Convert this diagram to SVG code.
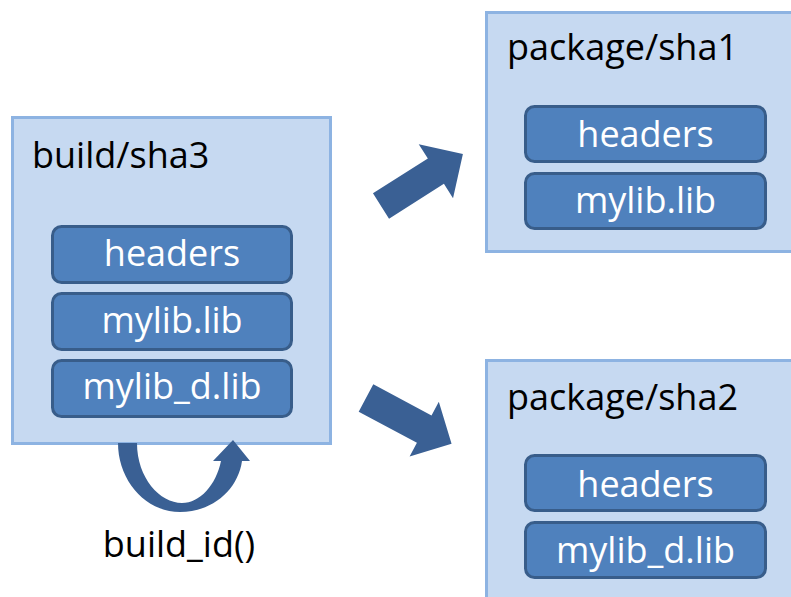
<svg xmlns="http://www.w3.org/2000/svg" width="791" height="597" viewBox="0 0 791 597">
<style>
.outer{fill:#c6d9f1;stroke:#8db3e2;stroke-width:3}
.inner{fill:#4f81bd;stroke:#385d8a;stroke-width:3}
.title{font-family:"Open Sans",sans-serif;font-size:36px;fill:#000}
.lbl{font-family:"Open Sans",sans-serif;font-size:36px;fill:#fff;text-anchor:middle}
.arr{fill:#3a6094}
</style>
<rect width="791" height="597" fill="#fff"/>
<g id="build">
<rect class="outer" x="12.5" y="117.5" width="318" height="326"/>
<text class="title" x="32" y="168">build/sha3</text>
<rect class="inner" x="52.5" y="226.5" width="239" height="56" rx="9"/>
<text class="lbl" x="172" y="266">headers</text>
<rect class="inner" x="52.5" y="293.5" width="239" height="56" rx="9"/>
<text class="lbl" x="172" y="333">mylib.lib</text>
<rect class="inner" x="52.5" y="360.5" width="239" height="56" rx="9"/>
<text class="lbl" x="172" y="399">mylib_d.lib</text>
</g>
<g id="package_sha1">
<rect class="outer" x="486.5" y="12.5" width="320" height="239"/>
<text class="title" x="507" y="60">package/sha1</text>
<rect class="inner" x="525.5" y="106.5" width="240" height="55" rx="9"/>
<text class="lbl" x="645.5" y="147">headers</text>
<rect class="inner" x="525.5" y="173.5" width="240" height="55" rx="9"/>
<text class="lbl" x="645.5" y="213">mylib.lib</text>
</g>
<g id="package_sha2">
<rect class="outer" x="486.5" y="360.5" width="320" height="260"/>
<text class="title" x="507" y="410">package/sha2</text>
<rect class="inner" x="525.5" y="455.5" width="240" height="55" rx="9"/>
<text class="lbl" x="645.5" y="497">headers</text>
<rect class="inner" x="525.5" y="522.5" width="240" height="55" rx="9"/>
<text class="lbl" x="645.5" y="563">mylib_d.lib</text>
</g>
<g id="connectors">
<polygon class="arr" transform="translate(381,206) rotate(-32.4)" points="0,-15 65,-15 65,-32 97,0 65,32 65,15 0,15"/>
<polygon class="arr" transform="translate(366,398) rotate(28.1)" points="0,-15.5 66,-15.5 66,-31 97,0 66,31 66,15.5 0,15.5"/>
<path class="arr" d="M118,443 C118,480 145,512 180,512 C212,512 238,490 242,461 L250,461 L233,440 L213,461 L221,461 C216,485 200,503 182,503 C160,503 137,478 137,443 Z"/>
<text class="title" x="179" y="557" text-anchor="middle">build_id()</text>
</g>
</svg>
